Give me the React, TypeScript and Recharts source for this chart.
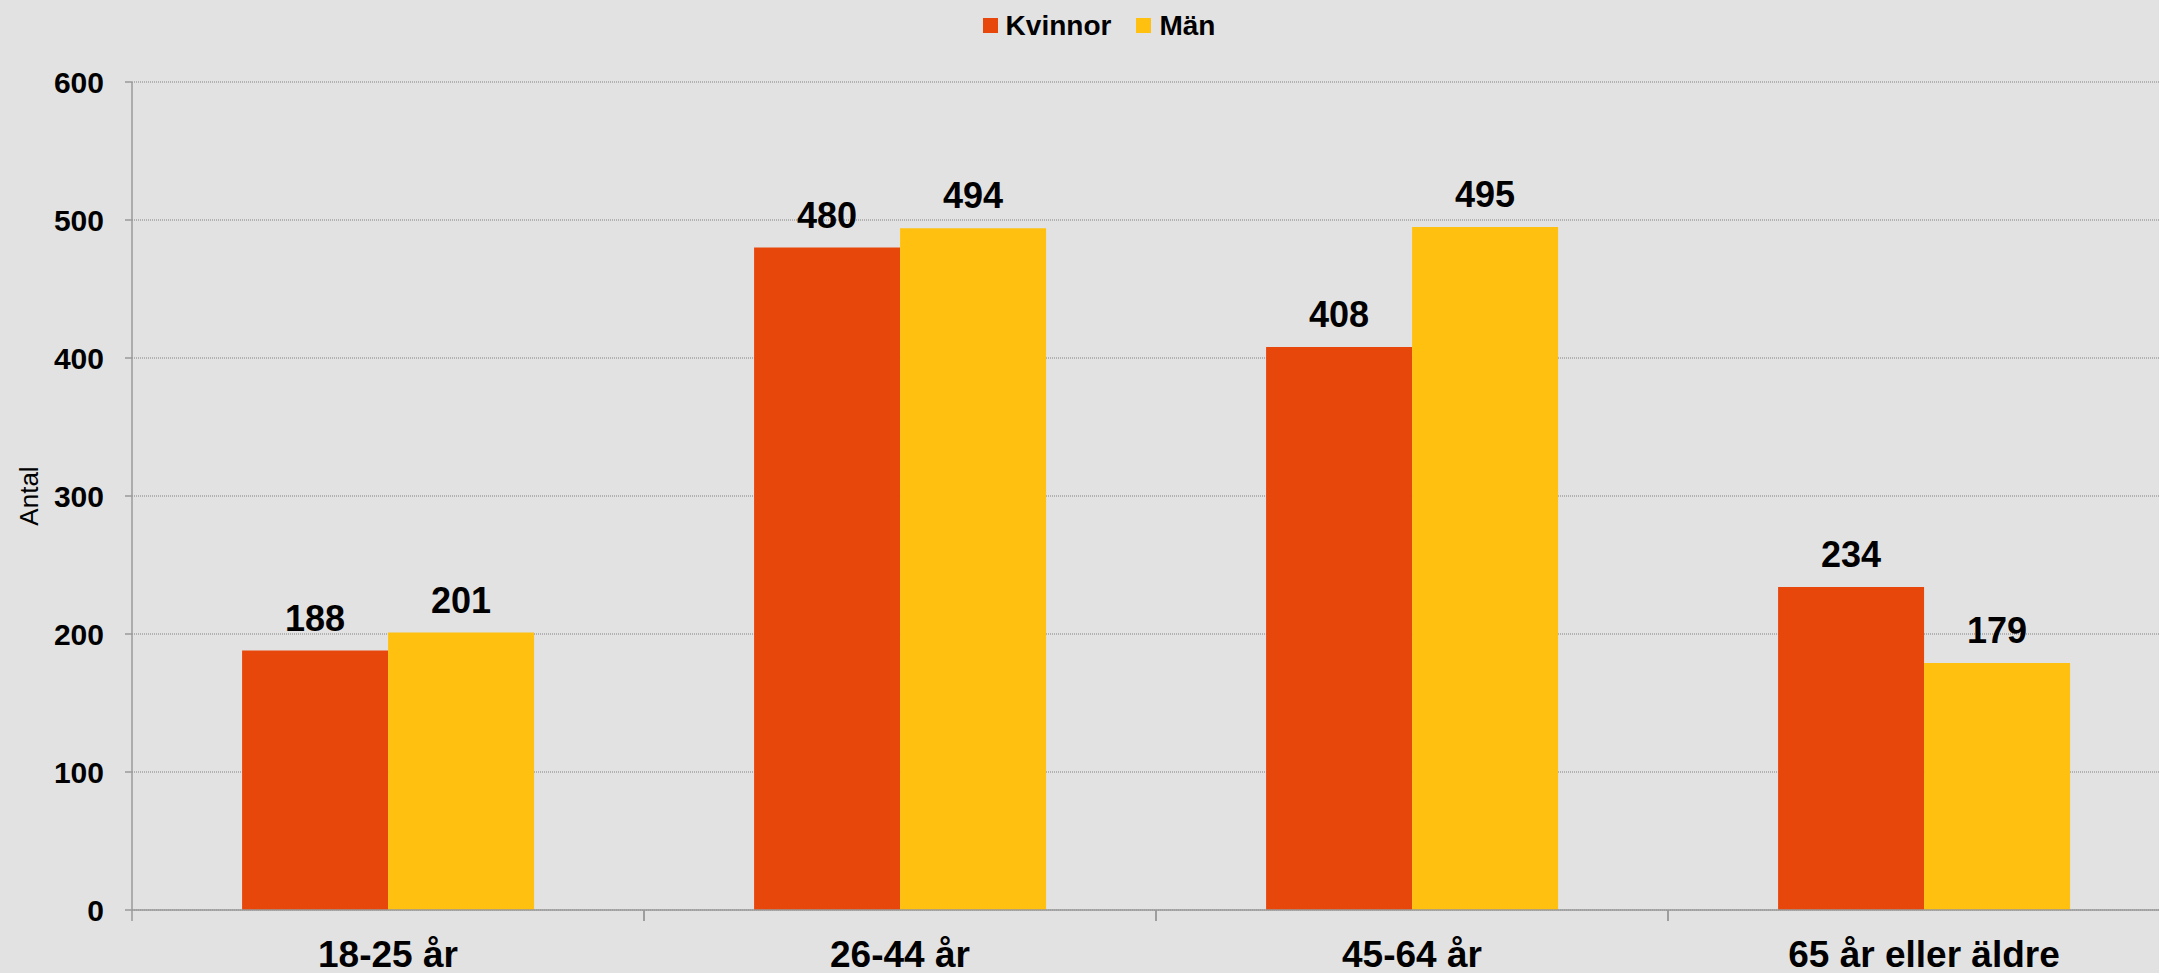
import React from 'react';
import { BarChart, Bar, XAxis, YAxis, CartesianGrid, Legend, LabelList, Label } from 'recharts';

const categories = ['18-25 år', '26-44 år', '45-64 år', '65 år eller äldre'];
const kvinnor = [188, 480, 408, 234];
const man = [201, 494, 495, 179];
const yTicks = [0, 100, 200, 300, 400, 500, 600];

const data = categories.map((name, i) => ({ name, Kvinnor: kvinnor[i], Män: man[i] }));

const CHART_W = 2198;
const CHART_H = 973;
const Y_AXIS_W = 132;
const MARGIN = { top: 51, right: 18, bottom: 0, left: 0 };
const PLOT_W = CHART_W - Y_AXIS_W - MARGIN.left - MARGIN.right;
const HALF_BAND = PLOT_W / categories.length / 2;
const FONT = '"Liberation Sans", Arial, sans-serif';

const renderLegend = (props: any) => {
  const { payload } = props;
  return (
    <div style={{ display: 'flex', justifyContent: 'center', alignItems: 'center', height: 31, gap: 25 }}>
      {payload.map((entry: any) => (
        <div key={entry.value} style={{ display: 'flex', alignItems: 'center' }}>
          <span style={{ width: 15, height: 15, background: entry.color, marginRight: 8, display: 'inline-block' }} />
          <span style={{ fontSize: 28, fontWeight: 'bold', color: '#000', fontFamily: FONT }}>{entry.value}</span>
        </div>
      ))}
    </div>
  );
};

const CategoryTick = (props: any) => {
  const { x, y, payload } = props;
  return (
    <g>
      <line x1={x - HALF_BAND} x2={x - HALF_BAND} y1={y} y2={y + 11} stroke="#9a9a9a" strokeWidth={1.5} />
      <line x1={x + HALF_BAND} x2={x + HALF_BAND} y1={y} y2={y + 11} stroke="#9a9a9a" strokeWidth={1.5} />
      <text x={x} y={y + 57} textAnchor="middle" fontSize={37} fontWeight="bold" fill="#000" fontFamily={FONT}>
        {payload.value}
      </text>
    </g>
  );
};

const AxisTitle = (props: any) => {
  const { viewBox } = props;
  const cx = viewBox.x + 38;
  const cy = viewBox.y + viewBox.height / 2;
  return (
    <text x={cx} y={cy} transform={`rotate(-90, ${cx}, ${cy})`} textAnchor="middle" fontSize={26} fill="#000" fontFamily={FONT}>
      Antal
    </text>
  );
};

const App: React.FC = () => {
  return (
    <div style={{ position: 'absolute', left: 0, top: 0, width: 2159, height: 973, overflow: 'hidden', background: '#e2e2e2' }}>
      <BarChart
        width={CHART_W}
        height={CHART_H}
        data={data}
        margin={MARGIN}
        barCategoryGap="21.5%"
        barGap={0}
        style={{ fontFamily: FONT }}
      >
        <CartesianGrid vertical={false} stroke="#808080" strokeDasharray="1 1" />
        <XAxis
          dataKey="name"
          height={63}
          axisLine={{ stroke: '#9a9a9a', strokeWidth: 1.5 }}
          tickLine={false}
          tickSize={0}
          tickMargin={0}
          interval={0}
          tick={<CategoryTick />}
        />
        <YAxis
          width={Y_AXIS_W}
          domain={[0, 600]}
          ticks={yTicks}
          interval={0}
          axisLine={{ stroke: '#9a9a9a', strokeWidth: 1.5 }}
          tickLine={{ stroke: '#9a9a9a', strokeWidth: 1.5 }}
          tickSize={7}
          tickMargin={21}
          tick={{ fontSize: 30, fontWeight: 'bold', fill: '#000', fontFamily: FONT }}
        >
          <Label content={<AxisTitle />} />
        </YAxis>
        <Legend
          verticalAlign="top"
          content={renderLegend}
          wrapperStyle={{ top: 10, left: 0, width: CHART_W }}
        />
        <Bar dataKey="Kvinnor" name="Kvinnor" fill="#e8470b" isAnimationActive={false}>
          <LabelList dataKey="Kvinnor" position="top" offset={20} fontSize={36} fontWeight="bold" fill="#000" fontFamily={FONT} />
        </Bar>
        <Bar dataKey="Män" name="Män" fill="#ffc00f" isAnimationActive={false}>
          <LabelList dataKey="Män" position="top" offset={20} fontSize={36} fontWeight="bold" fill="#000" fontFamily={FONT} />
        </Bar>
      </BarChart>
    </div>
  );
};

export default App;
